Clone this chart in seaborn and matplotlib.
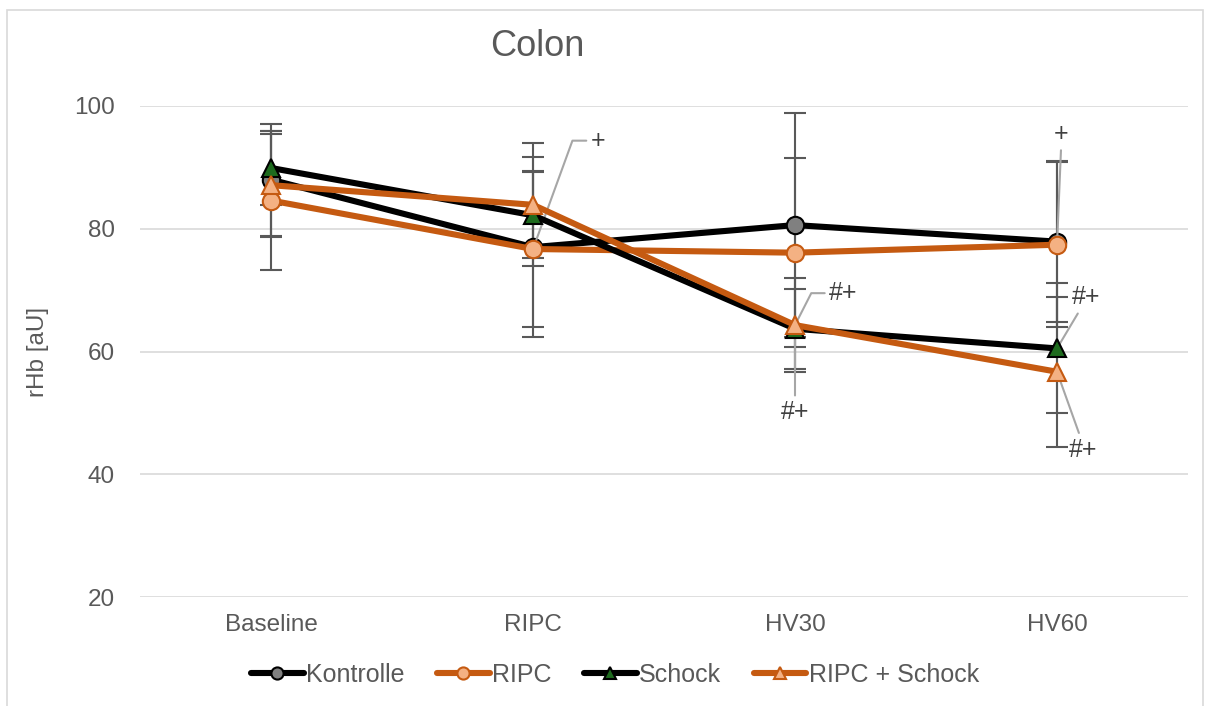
import numpy as np
import pandas as pd
import matplotlib
matplotlib.use("Agg")
import matplotlib.pyplot as plt
import seaborn as sns
from matplotlib.patches import Rectangle

# data
categories = ["Baseline", "RIPC", "HV30", "HV60"]
series_names = ["Kontrolle", "RIPC", "Schock", "RIPC + Schock"]

kontrolle = [88.0, 77.0, 80.6, 77.9]
kontrolle_sd = [9.1, 14.7, 18.3, 13.1]
ripc = [84.6, 76.7, 76.1, 77.4]
ripc_sd = [11.4, 12.7, 15.4, 13.4]
schock = [89.9, 82.2, 63.7, 60.5]
schock_sd = [6.0, 7.0, 6.5, 10.6]
ripc_schock = [87.1, 83.9, 64.3, 56.7]
ripc_schock_sd = [8.4, 10.0, 7.6, 12.2]

# significance marks: (text, series, category index, offset in points, connector, relpos)
sig_labels = [
    ("+", "RIPC", 1, (47, 78), "angle,angleA=0,angleB=70,rad=0", (0.5, 0.5)),
    ("#+", "RIPC + Schock", 2, (35, 23), "angle,angleA=0,angleB=63,rad=0", (0.5, 0.5)),
    ("#+", "Schock", 2, (0, -60), "arc3", (0.5, 0.5)),
    ("+", "RIPC", 3, (3, 80), "arc3", (0.5, 0.0)),
    ("#+", "Schock", 3, (21, 37), "arc3", (0.3, 0.0)),
    ("#+", "RIPC + Schock", 3, (19, -56), "arc3", (0.4, 1.0)),
]

sns.set_style("white")
plt.rcParams["font.family"] = ["Liberation Sans", "DejaVu Sans"]

BLACK = "#000000"
ORANGE = "#C55A11"
PEACH = "#F4B183"
GREY_TXT = "#595959"
GRID = "#D9D9D9"

styles = {
    "Kontrolle": dict(color=BLACK, marker="o", mfc="#808080", mec=BLACK),
    "RIPC": dict(color=ORANGE, marker="o", mfc=PEACH, mec=ORANGE),
    "Schock": dict(color=BLACK, marker="^", mfc="#1E6B1E", mec=BLACK),
    "RIPC + Schock": dict(color=ORANGE, marker="^", mfc=PEACH, mec=ORANGE),
}
values = {
    "Kontrolle": (kontrolle, kontrolle_sd),
    "RIPC": (ripc, ripc_sd),
    "Schock": (schock, schock_sd),
    "RIPC + Schock": (ripc_schock, ripc_schock_sd),
}

fig = plt.figure(figsize=(12.15, 7.06), dpi=100)
ax = fig.add_axes([140 / 1215, 1 - 597 / 706, (1188 - 140) / 1215, (597 - 106) / 706])

pos = np.arange(len(categories))

# error bars first, lines and markers on top
for name in series_names:
    y, sd = values[name]
    ax.errorbar(pos, y, yerr=sd, fmt="none", ecolor=GREY_TXT, elinewidth=1.5,
                capsize=8, capthick=1.5, zorder=2)

for i, name in enumerate(series_names):
    y, _ = values[name]
    st = styles[name]
    df = pd.DataFrame({"x": pos, "y": y})
    sns.lineplot(data=df, x="x", y="y", ax=ax, color=st["color"], lw=4.4,
                 marker=st["marker"], markersize=12.5, markerfacecolor=st["mfc"],
                 markeredgecolor=st["mec"], markeredgewidth=1.5,
                 label=name, zorder=3 + i, legend=False)

for text, name, idx, off, conn, rel in sig_labels:
    y, _ = values[name]
    ax.annotate(text, xy=(pos[idx], y[idx]), xytext=off, textcoords="offset points",
                ha="center", va="center", fontsize=18, color="#404040",
                annotation_clip=False,
                arrowprops=dict(arrowstyle="-", color="#A6A6A6", lw=1.5,
                                connectionstyle=conn, relpos=rel,
                                shrinkA=1, shrinkB=0))

ax.set_xlim(-0.5, len(categories) - 0.5)
ax.set_ylim(20, 100)
ax.set_yticks([20, 40, 60, 80, 100])
ax.set_xticks(pos)
ax.set_xticklabels(categories)
ax.yaxis.grid(True, color=GRID, lw=1.2)
ax.set_axisbelow(True)
for sp in ax.spines.values():
    sp.set_visible(False)
ax.tick_params(axis="both", length=0, labelsize=17.5, colors=GREY_TXT)
ax.tick_params(axis="y", pad=18)
ax.tick_params(axis="x", pad=12)
ax.set_xlabel("")
ax.set_ylabel("rHb [aU]", fontsize=17.5, color=GREY_TXT, labelpad=18)

fig.text(537 / 1215, 1 - 47 / 706, "Colon", ha="center", va="center",
         fontsize=26, color=GREY_TXT)

handles, labels = ax.get_legend_handles_labels()
leg = fig.legend(handles, labels, loc="center", bbox_to_anchor=(615 / 1215, 1 - 675 / 706),
                 ncol=4, frameon=False, fontsize=18, handlelength=2.1,
                 handletextpad=0.1, columnspacing=1.3, markerscale=0.7)
for t in leg.get_texts():
    t.set_color(GREY_TXT)

fig.patches.append(Rectangle((7 / 1215, -0.01), 1196 / 1215, 1.01 - 10 / 706,
                             transform=fig.transFigure, fill=False,
                             edgecolor=GRID, lw=1.2))

fig.savefig("out.png", dpi=100)
